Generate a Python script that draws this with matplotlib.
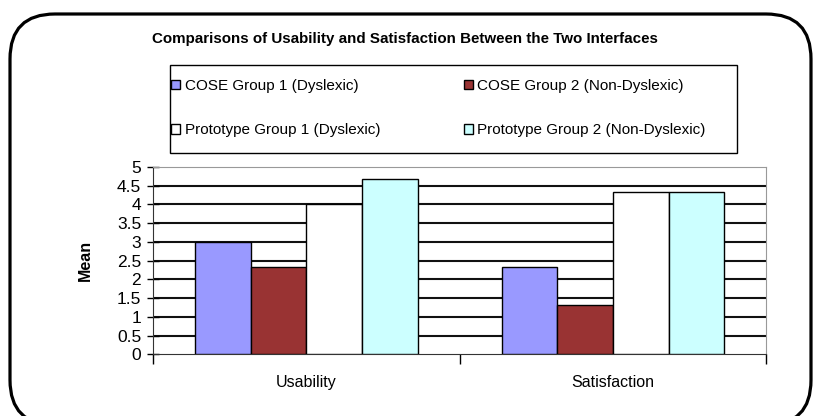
import matplotlib
matplotlib.use('Agg')
import matplotlib.pyplot as plt
import matplotlib.transforms as mtransforms
import numpy as np
from matplotlib.patches import FancyBboxPatch, Rectangle

plt.rcParams['font.family'] = ['Liberation Sans Narrow', 'Liberation Sans', 'DejaVu Sans']

# data
categories = ['Usability', 'Satisfaction']
series_names = ['COSE Group 1 (Dyslexic)', 'COSE Group 2 (Non-Dyslexic)',
                'Prototype Group 1 (Dyslexic)', 'Prototype Group 2 (Non-Dyslexic)']
cose_g1 = [3.0, 2.33]
cose_g2 = [2.33, 1.33]
proto_g1 = [4.0, 4.33]
proto_g2 = [4.67, 4.33]
colors = ['#9999FF', '#993333', '#FFFFFF', '#CCFFFF']
yticks = [0, 0.5, 1, 1.5, 2, 2.5, 3, 3.5, 4, 4.5, 5]
ytick_labels = ['0', '0.5', '1', '1.5', '2', '2.5', '3', '3.5', '4', '4.5', '5']

fig = plt.figure(figsize=(8.18, 4.16), dpi=100)
ax = fig.add_axes([0.187, 0.148, 0.750, 0.451])
px = mtransforms.IdentityTransform()

x = np.arange(len(categories))
w = 0.1815
series = [cose_g1, cose_g2, proto_g1, proto_g2]
handles = []
for i, vals in enumerate(series):
    b = ax.bar(x + (i - 1.5) * w, vals, w, color=colors[i], edgecolor='black',
               linewidth=1.0, label=series_names[i], zorder=3)
    handles.append(b)

ax.set_xlim(-0.5, 1.5)
ax.set_ylim(0, 5)
ax.set_yticks(yticks)
ax.set_yticklabels(ytick_labels, fontsize=12.5)
ax.tick_params(axis='y', direction='inout', length=9, width=1, pad=4)
ax.set_xticks([-0.5, 0.5, 1.5])
ax.set_xticklabels(['', '', ''])
ax.set_xticks(x, minor=True)
ax.set_xticklabels(categories, minor=True, fontsize=11.5)
ax.tick_params(axis='x', which='minor', length=0, pad=15)
ax.tick_params(axis='x', which='major', direction='out', length=7, width=1)

for yv in yticks[1:-1]:
    ax.axhline(yv, color='#111111', linewidth=1.5, zorder=1)
ax.spines['top'].set_color('#999999')
ax.spines['right'].set_color('#999999')
ax.spines['left'].set_color('#333333')
ax.spines['bottom'].set_color('#333333')

ax.set_ylabel('Mean', fontsize=11.5, fontweight='bold', labelpad=17)

fig.text(0.495, 0.906, 'Comparisons of Usability and Satisfaction Between the Two Interfaces',
         ha='center', va='center', fontsize=10.9, fontweight='bold')

# legend filled row by row like the original, frame drawn separately
order = [0, 2, 1, 3]
leg = fig.legend(handles=[handles[k] for k in order],
                 labels=[series_names[k] for k in order], ncol=2,
                 loc='upper left', bbox_to_anchor=(171 / 818, 1 - 79 / 416),
                 bbox_transform=fig.transFigure,
                 fontsize=11, frameon=False,
                 handlelength=0.6, handleheight=0.6, handletextpad=0.3,
                 columnspacing=5.45, labelspacing=1.98, borderpad=0.0,
                 borderaxespad=0)
fig.patches.append(Rectangle((170, 416 - 153), 567, 88, transform=px, fill=False,
                             edgecolor='black', linewidth=1.0))

border = FancyBboxPatch((10, -9), 801, 411,
                        boxstyle='round,pad=0,rounding_size=45',
                        transform=px, fill=False,
                        edgecolor='black', linewidth=2.3)
fig.patches.append(border)

fig.savefig('out.png', dpi=100)
